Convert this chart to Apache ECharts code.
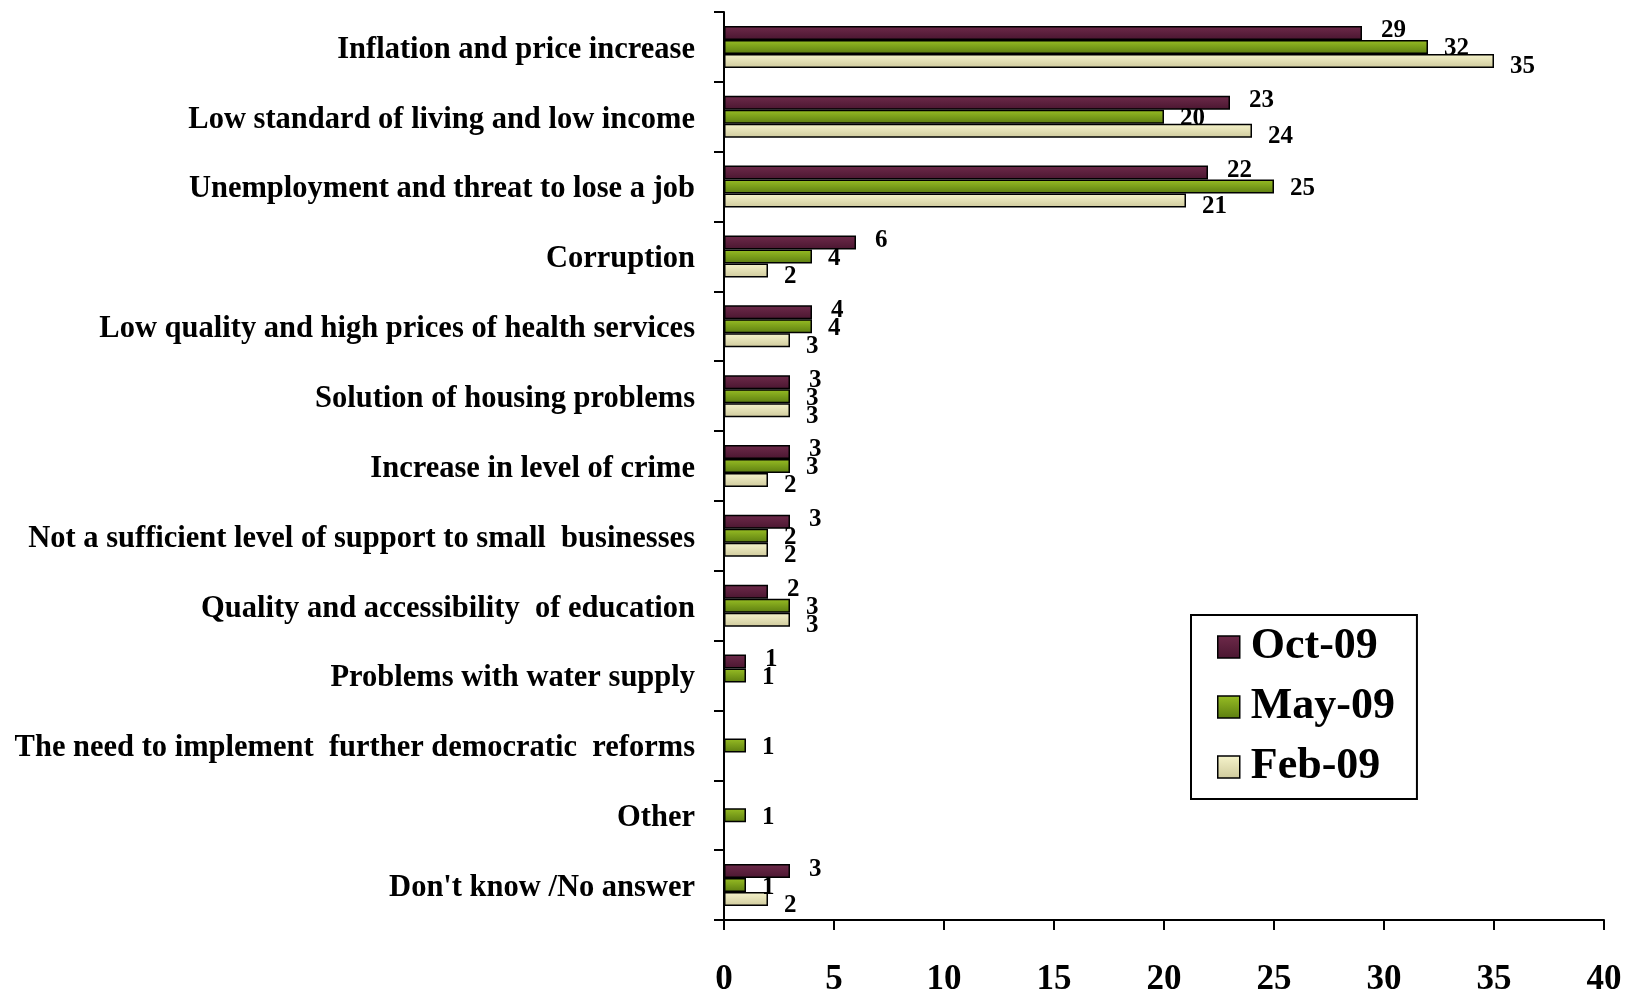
<!DOCTYPE html>
<html>
<head>
<meta charset="utf-8">
<script src="https://cdn.jsdelivr.net/npm/echarts@6/dist/echarts.min.js"></script>
<style>html,body{margin:0;padding:0;background:#fff}#c{width:1640px;height:994px}</style>
</head>
<body>
<div id="c"></div>
<script>
const categories = [
  "Inflation and price increase",
  "Low standard of living and low income",
  "Unemployment and threat to lose a job",
  "Corruption",
  "Low quality and high prices of health services",
  "Solution of housing problems",
  "Increase in level of crime",
  "Not a sufficient level of support to small  businesses",
  "Quality and accessibility  of education",
  "Problems with water supply",
  "The need to implement  further democratic  reforms",
  "Other",
  "Don't know /No answer"
];
const oct09 = [29, 23, 22, 6, 4, 3, 3, 3, 2, 1, '-', '-', 3];
const may09 = [32, 20, 25, 4, 4, 3, 3, 2, 3, 1, 1, 1, 1];
const feb09 = [35, 24, 21, 2, 3, 3, 2, 2, 3, '-', '-', '-', 2];
const xTicks = [0, 5, 10, 15, 20, 25, 30, 35, 40];

const FONT = '"Liberation Serif", "Times New Roman", serif';
function grad(a, b) {
  return new echarts.graphic.LinearGradient(0, 0, 0, 1, [{offset: 0, color: a}, {offset: 1, color: b}]);
}
function mkSeries(name, data, c1, c2, dx, dy) {
  return {
    name: name, type: 'bar', data: data, barWidth: 14, barGap: '0%', barCategoryGap: '30%',
    itemStyle: {color: grad(c1, c2), borderColor: '#000', borderWidth: 1.5},
    label: {
      show: true, position: 'right', distance: 16, offset: [dx, dy],
      fontFamily: FONT, fontWeight: 'bold', fontSize: 25, color: '#000'
    }
  };
}
const chart = echarts.init(document.getElementById('c'), null, {renderer: 'canvas'});
chart.setOption({
  animation: false,
  backgroundColor: '#fff',
  grid: {left: 724, right: 36, top: 12, bottom: 74, containLabel: false, outerBoundsMode: 'none'},
  legend: {
    orient: 'vertical', left: 1191, top: 615,
    data: ['Oct-09', 'May-09', 'Feb-09'],
    icon: 'rect',
    itemWidth: 22, itemHeight: 22, itemGap: 16,
    padding: [10, 22, 10, 26],
    borderColor: '#000', borderWidth: 2,
    textStyle: {fontFamily: FONT, fontWeight: 'bold', fontSize: 44, color: '#000', padding: [0, 0, 0, 6]},
    itemStyle: {borderColor: '#000', borderWidth: 1.5}
  },
  xAxis: {
    type: 'value', min: xTicks[0], max: xTicks[xTicks.length - 1], interval: 5,
    splitLine: {show: false},
    axisLine: {show: true, lineStyle: {color: '#000', width: 2}},
    axisTick: {show: true, length: 10, lineStyle: {color: '#000', width: 2}},
    axisLabel: {margin: 42, fontFamily: FONT, fontWeight: 'bold', fontSize: 35, color: '#000'}
  },
  yAxis: {
    type: 'category', data: categories, inverse: true,
    axisLine: {show: true, lineStyle: {color: '#000', width: 2}},
    axisTick: {show: true, length: 10, lineStyle: {color: '#000', width: 2}},
    axisLabel: {
      margin: 29,
      formatter: function (v) { return '{a|' + v + '}'; },
      rich: {a: {fontFamily: FONT, fontWeight: 'bold', fontSize: 30.5, color: '#000', padding: [6, 0, 0, 0]}}
    }
  },
  series: [
    mkSeries('Oct-09', oct09, '#6E2A4A', '#4A1630', 3, -2),
    mkSeries('May-09', may09, '#98BE24', '#5C7D10', 0, 2),
    mkSeries('Feb-09', feb09, '#F6F4CC', '#CFCA9C', 0, 6)
  ]
});
</script>
</body>
</html>
